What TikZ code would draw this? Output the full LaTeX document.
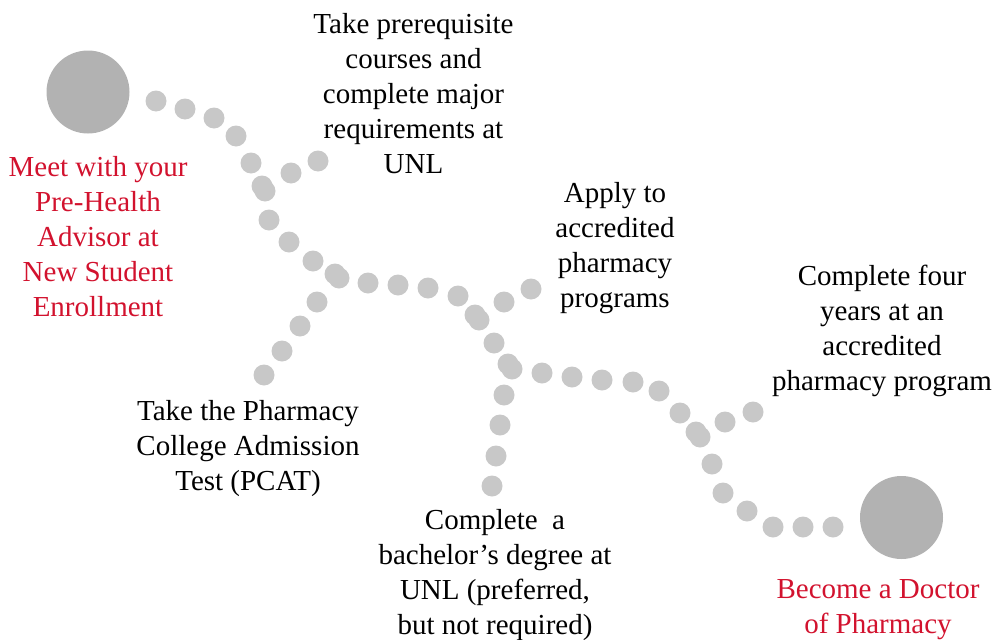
\documentclass[tikz,border=0pt]{standalone}
\usepackage{fontspec}
\setmainfont{Liberation Serif}
\definecolor{unlred}{RGB}{210,18,46}
\definecolor{dotgray}{RGB}{200,200,200}
\definecolor{biggray}{RGB}{178,178,178}
\tikzset{
  dotmark/.style={circle,fill=dotgray,inner sep=0pt,minimum size=21pt},
  bigmark/.style={circle,fill=biggray,inner sep=0pt,minimum size=83pt},
  steptext/.style={align=center,inner sep=0pt,font=\fontsize{29}{35}\selectfont,
    execute at begin node=\strut, execute at end node=\strut},
  goaltext/.style={steptext,text=unlred},
}
\begin{document}
\begin{tikzpicture}[x=1pt,y=-1pt]
\useasboundingbox (0,0) rectangle (997,640);
% big end circles
\node[bigmark] (start) at (88,92) {};
\node[bigmark] (finish) at (901.5,517.5) {};
% main path dots
\foreach \p [count=\i] in {(156,101),(185,109),(214,118),(236,136),(251,163),
  (262,186),(265,191),(269,220),(289,242),(313,261),
  (335,274),(339,278),(368,283),(398,285),(428,288),(458,296),
  (475,315),(479,320),(494,343),(508,364),(512,369),
  (542,373),(572,377),(602,380),(633,382),(659,391),(680,413),
  (696,432),(700,437),(712,464),(723,493),(747,511),(773,527),(803,527),(833,527)}
  \node[dotmark] (m\i) at \p {};
% branch dots
\foreach \p [count=\i] in {(291,173),(318,161)} \node[dotmark] (a\i) at \p {};
\foreach \p [count=\i] in {(317,302),(300,326),(282,351),(264,375)} \node[dotmark] (b\i) at \p {};
\foreach \p [count=\i] in {(504,302),(531,289)} \node[dotmark] (c\i) at \p {};
\foreach \p [count=\i] in {(504,395),(500,425),(496,456),(492,486)} \node[dotmark] (d\i) at \p {};
\foreach \p [count=\i] in {(725,422),(753,412)} \node[dotmark] (e\i) at \p {};
% texts
\node[goaltext] (tstart) at (98,242) {Meet with your\\Pre-Health\\Advisor at\\New Student\\Enrollment};
\node[steptext] (tprereq) at (413.5,99) {Take prerequisite\\courses and\\complete major\\requirements at\\UNL};
\node[steptext] (tapply) at (615,250.5) {Apply to\\accredited\\pharmacy\\programs};
\node[steptext] (tfour) at (882,333.5) {Complete four\\years at an\\accredited\\pharmacy program};
\node[steptext] (tpcat) at (248,451) {Take the Pharmacy\\College Admission\\Test (PCAT)};
\node[steptext] (tbach) at (495,577) {Complete\ \ a\\bachelor’s degree at\\UNL (preferred,\\but not required)};
\node[goaltext] (tfinish) at (878,612) {Become a Doctor\\of Pharmacy};
\end{tikzpicture}
\end{document}
